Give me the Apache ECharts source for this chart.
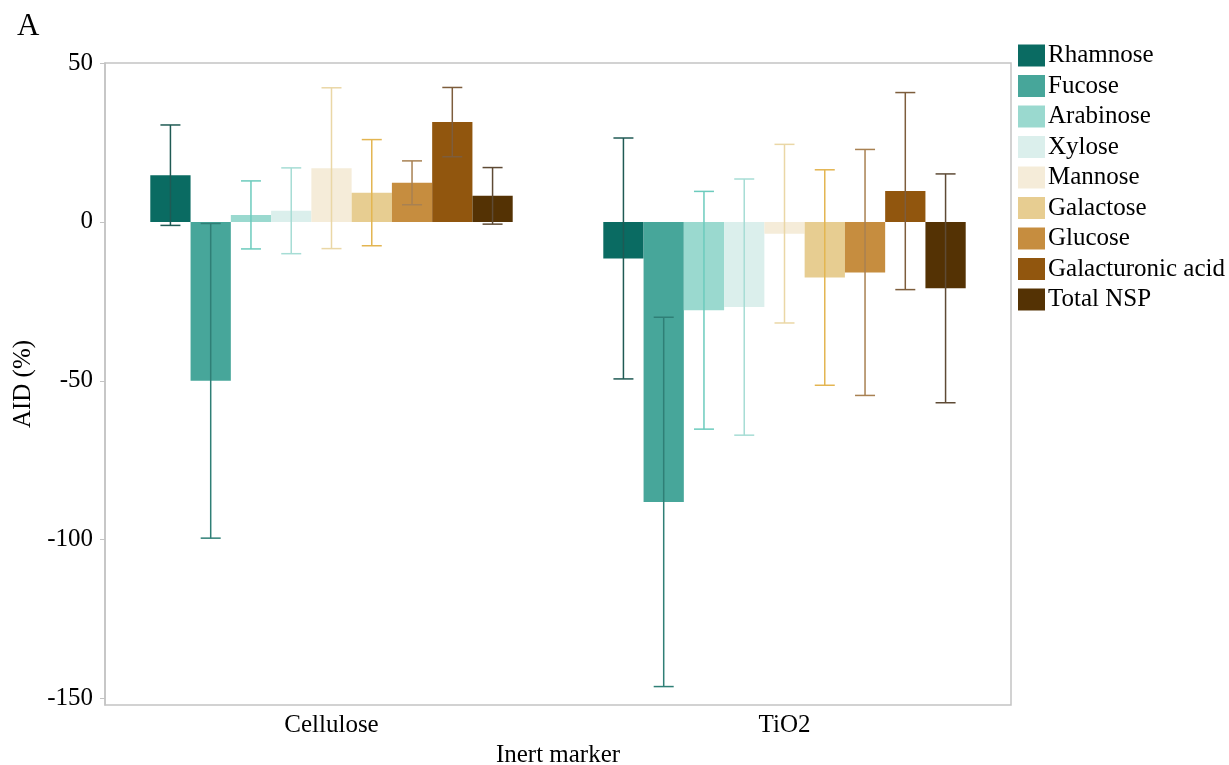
<!DOCTYPE html>
<html>
<head>
<meta charset="utf-8">
<script src="https://cdn.jsdelivr.net/npm/echarts@6/dist/echarts.min.js"></script>
<style>
  html, body {margin: 0; padding: 0; background: #fff;}
  #chart {width: 1229px; height: 765px;}
</style>
</head>
<body>
<div id="chart"></div>
<script>
const categories = ['Cellulose', 'TiO2'];
const sugars = ['Rhamnose', 'Fucose', 'Arabinose', 'Xylose', 'Mannose', 'Galactose', 'Glucose', 'Galacturonic acid', 'Total NSP'];
// mean AID (%) per sugar
const meanCellulose = [14.7, -50.0, 2.2, 3.5, 16.9, 9.2, 12.3, 31.4, 8.2];
const meanTiO2 = [-11.5, -88.1, -27.8, -26.8, -3.7, -17.5, -15.9, 9.7, -20.9];
// half length of error bars
const errCellulose = [15.8, 49.5, 10.7, 13.5, 25.3, 16.7, 6.9, 10.9, 8.9];
const errTiO2 = [37.9, 58.1, 37.4, 40.3, 28.1, 33.9, 38.7, 31.0, 36.0];
const yTicks = [-150, -100, -50, 0, 50];

const barColors = ['#0a6b62', '#47a69a', '#9ad9cf', '#dbefec', '#f5ecd9', '#e7cd91', '#c68d3f', '#91560e', '#543204'];
const errColors = ['#1f5a54', '#2f7f76', '#6ccbbd', '#a6ddd5', '#ead7a6', '#e3b551', '#a88152', '#7d5d3c', '#5e4a35'];

const serif = '"Liberation Serif", "Times New Roman", serif';
const chart = echarts.init(document.getElementById('chart'));

const bars = sugars.map((name, i) => ({
  name: name,
  type: 'bar',
  data: [meanCellulose[i], meanTiO2[i]],
  itemStyle: {color: barColors[i]},
  barGap: '0%',
  barCategoryGap: '20%',
  z: 2
}));

const errs = sugars.map((name, i) => ({
  name: name,
  type: 'custom',
  z: 5,
  data: [
    [0, meanCellulose[i] - errCellulose[i], meanCellulose[i] + errCellulose[i]],
    [1, meanTiO2[i] - errTiO2[i], meanTiO2[i] + errTiO2[i]]
  ],
  encode: {x: 0, y: [1, 2]},
  renderItem(params, api) {
    const lo = api.coord([api.value(0), api.value(1)]);
    const hi = api.coord([api.value(0), api.value(2)]);
    const band = api.size([1, 0])[0];
    const bw = band * 0.8 / sugars.length;
    const x = lo[0] + (i - (sugars.length - 1) / 2) * bw;
    const cap = 10;
    const style = {stroke: errColors[i], lineWidth: 1.5};
    return {
      type: 'group',
      children: [
        {type: 'line', shape: {x1: x, y1: lo[1], x2: x, y2: hi[1]}, style},
        {type: 'line', shape: {x1: x - cap, y1: lo[1], x2: x + cap, y2: lo[1]}, style},
        {type: 'line', shape: {x1: x - cap, y1: hi[1], x2: x + cap, y2: hi[1]}, style}
      ]
    };
  }
}));

chart.setOption({
  animation: false,
  textStyle: {fontFamily: serif},
  graphic: [{
    type: 'text', left: 17, top: 11,
    style: {text: 'A', font: '31px ' + serif, fill: '#000'}
  }],
  legend: {
    data: sugars,
    orient: 'vertical',
    left: 1018,
    top: 43,
    padding: 0,
    icon: 'rect',
    itemWidth: 27,
    itemHeight: 22,
    itemGap: 5.5,
    textStyle: {fontFamily: serif, fontSize: 25, color: '#000', padding: [0, 0, 0, -2]}
  },
  grid: {
    left: 105, right: 218, top: 63, bottom: 60,
    outerBoundsMode: 'none',
    containLabel: false,
    show: true, borderColor: '#c3c3c3', borderWidth: 1.5
  },
  xAxis: {
    type: 'category',
    data: categories,
    name: 'Inert marker',
    nameLocation: 'middle',
    nameGap: 32,
    nameTextStyle: {fontFamily: serif, fontSize: 25, color: '#000'},
    axisLine: {show: false},
    axisTick: {show: false},
    axisLabel: {fontFamily: serif, fontSize: 25, color: '#000', margin: 8}
  },
  yAxis: {
    type: 'value',
    min: -152,
    max: 50,
    name: 'AID (%)',
    nameLocation: 'middle',
    nameGap: 68,
    nameTextStyle: {fontFamily: serif, fontSize: 25, color: '#000'},
    splitLine: {show: false},
    axisLine: {show: true, lineStyle: {color: '#c3c3c3', width: 1.5}},
    axisTick: {show: true, length: 5, customValues: yTicks, lineStyle: {color: '#c3c3c3'}},
    axisLabel: {fontFamily: serif, fontSize: 25, color: '#000', margin: 12, customValues: yTicks}
  },
  series: bars.concat(errs)
});
</script>
</body>
</html>
